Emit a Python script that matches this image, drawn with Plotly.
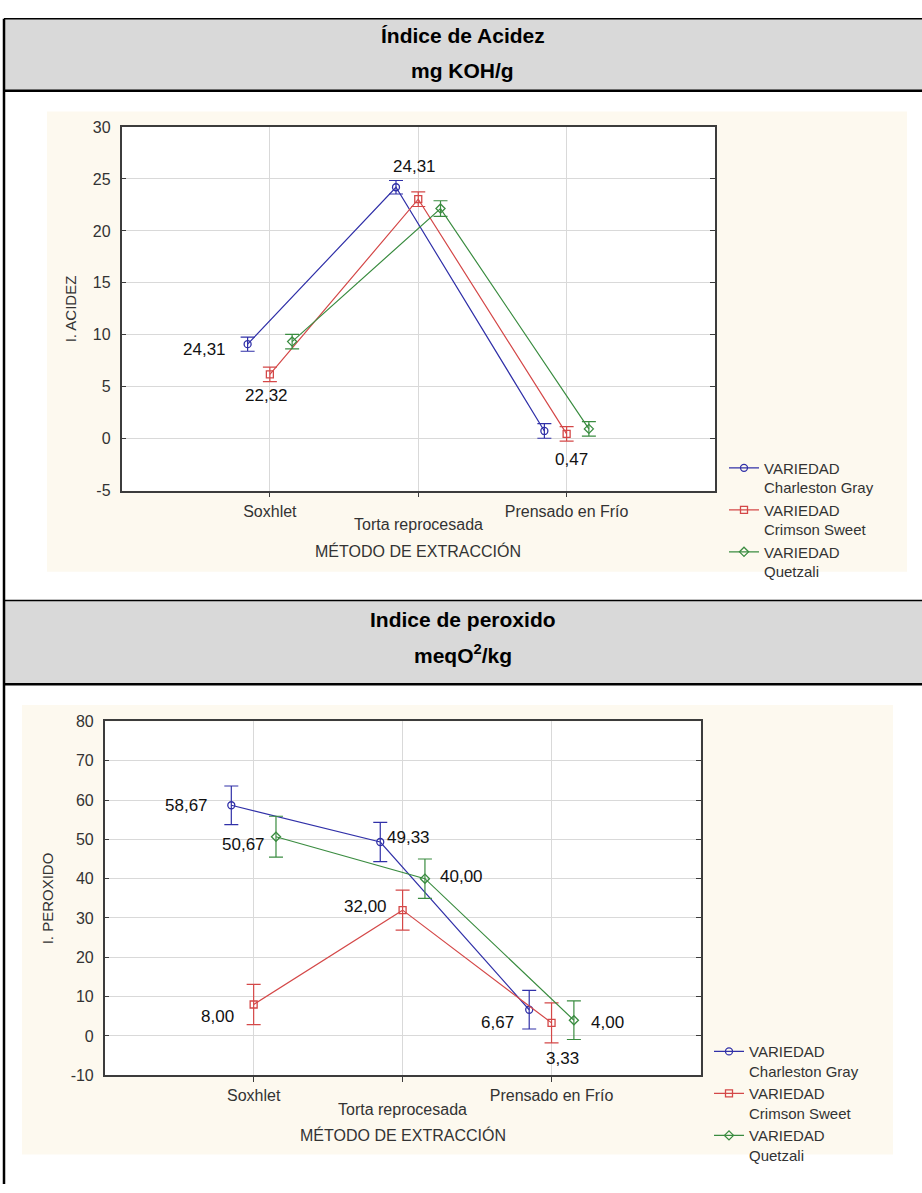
import plotly.graph_objects as go

# ---------------- data ----------------
methods = ["Soxhlet", "Torta reprocesada", "Prensado en Frío"]
varieties = ["Charleston Gray", "Crimson Sweet", "Quetzali"]

acidez_charleston = [9.1, 24.2, 0.75]
acidez_crimson = [6.2, 23.05, 0.47]
acidez_quetzali = [9.35, 22.15, 0.95]
acidez_err_charleston = [0.68, 0.65, 0.7]
acidez_err_crimson = [0.7, 0.7, 0.7]
acidez_err_quetzali = [0.7, 0.75, 0.7]

peroxido_charleston = [58.67, 49.33, 6.67]
peroxido_crimson = [8.00, 32.00, 3.33]
peroxido_quetzali = [50.67, 40.00, 4.00]
peroxido_err_charleston = [4.9, 5.0, 4.9]
peroxido_err_crimson = [5.1, 5.1, 5.1]
peroxido_err_quetzali = [5.2, 5.0, 4.9]

acidez_ticks = [-5, 0, 5, 10, 15, 20, 25, 30]
peroxido_ticks = [-10, 0, 10, 20, 30, 40, 50, 60, 70, 80]

# value labels: text, variety index, method index
acidez_labels = [("24,31", 0, 0), ("24,31", 0, 1), ("22,32", 1, 0), ("0,47", 1, 2)]
peroxido_labels = [("58,67", 0, 0), ("50,67", 2, 0), ("49,33", 0, 1), ("40,00", 2, 1),
                   ("32,00", 1, 1), ("8,00", 1, 0), ("6,67", 0, 2), ("4,00", 2, 2),
                   ("3,33", 1, 2)]

# ---------------- style ----------------
W, H = 922, 1193
FONT = "Liberation Sans, Arial, sans-serif"
HEADFONT = "Liberation Sans Narrow, Arial Narrow, Liberation Sans, sans-serif"
colors = ["#3030A8", "#D44848", "#3A8C40"]
symbols = ["circle-open", "square-open", "diamond-open"]
offsets = [-0.15, 0.0, 0.15]
acidez_label_shift = [(-43, -5), (19, 21), (-3, -21), (5, -26)]
peroxido_label_shift = [(-45, 0), (-32, -8), (28, 4), (37, 2), (-37, 4),
                        (-36, -12), (-32, -13), (34, -2), (11, -36)]


def px(p):
    return p / W


def py(p):
    return 1 - p / H


fig = go.Figure()

acid_vals = [acidez_charleston, acidez_crimson, acidez_quetzali]
acid_errs = [acidez_err_charleston, acidez_err_crimson, acidez_err_quetzali]
per_vals = [peroxido_charleston, peroxido_crimson, peroxido_quetzali]
per_errs = [peroxido_err_charleston, peroxido_err_crimson, peroxido_err_quetzali]

method_pos = [i + 1 for i in range(len(methods))]


def add_series(vals, errs, xa, ya, legend):
    for i, name in enumerate(varieties):
        fig.add_trace(go.Scatter(
            x=[m + offsets[i] for m in method_pos], y=vals[i],
            mode="lines+markers",
            name="VARIEDAD<br>" + name,
            line=dict(color=colors[i], width=1.2),
            marker=dict(symbol=symbols[i], size=7, color=colors[i], line=dict(width=1.3)),
            error_y=dict(type="data", array=errs[i], visible=True, color=colors[i],
                         thickness=1.2, width=7),
            xaxis=xa, yaxis=ya, legend=legend,
        ))


add_series(acid_vals, acid_errs, "x", "y", "legend")
add_series(per_vals, per_errs, "x2", "y2", "legend2")

# outer categories are regular tick labels; the middle one is staggered below
major_pos = [method_pos[0], method_pos[2]]
major_txt = [methods[0], methods[2]]

axis_common = dict(showline=True, linecolor="#3C3C3C", linewidth=1.5, zeroline=False,
                   gridcolor="#D9D9D9", gridwidth=1, tickcolor="#3C3C3C",
                   tickfont=dict(family=FONT, size=16, color="#333333"))

xcommon = dict(axis_common, range=[0, 4], tickvals=major_pos, ticktext=major_txt,
               ticks="outside", ticklen=5, mirror=True, showgrid=True,
               minor=dict(tickmode="array", tickvals=[method_pos[1]], ticks="outside",
                          ticklen=5, tickcolor="#3C3C3C", showgrid=True,
                          gridcolor="#D9D9D9", gridwidth=1))
ycommon = dict(axis_common, ticks="inside", ticklen=5, mirror="allticks", showgrid=True,
               ticklabelstandoff=6)

fig.update_layout(
    width=W, height=H, autosize=False,
    margin=dict(l=0, r=0, t=0, b=0),
    paper_bgcolor="white", plot_bgcolor="white",
    font=dict(family=FONT, color="#333333"),
    xaxis=dict(xcommon, domain=[px(121.5), px(715)], anchor="y"),
    yaxis=dict(ycommon, domain=[py(489.7), py(120.7)], range=[-5, 30],
               tickvals=acidez_ticks, ticktext=[str(t) for t in acidez_ticks], anchor="x"),
    xaxis2=dict(xcommon, domain=[px(104.7), px(700.5)], anchor="y2"),
    yaxis2=dict(ycommon, domain=[py(1082.7), py(723.7)], range=[-10, 80],
                tickvals=peroxido_ticks, ticktext=[str(t) for t in peroxido_ticks], anchor="x2"),
    legend=dict(x=px(724), y=py(450), xanchor="left", yanchor="top",
                bgcolor="rgba(0,0,0,0)", font=dict(family=FONT, size=15, color="#333333"),
                valign="top", tracegroupgap=0),
    legend2=dict(x=px(709), y=py(1042), xanchor="left", yanchor="top",
                 bgcolor="rgba(0,0,0,0)", font=dict(family=FONT, size=15, color="#333333"),
                 valign="top", tracegroupgap=0),
    showlegend=True,
)

# ---------------- table frame & backgrounds ----------------
shapes = []
CREAM = "#FDF9EF"
GRAY = "#D9D9D9"
shapes.append(dict(type="rect", xref="paper", yref="paper", x0=px(47), x1=px(907),
                   y0=py(572), y1=py(105), fillcolor=CREAM, line=dict(width=0), layer="below"))
shapes.append(dict(type="rect", xref="paper", yref="paper", x0=px(22), x1=px(893),
                   y0=py(1163), y1=py(707), fillcolor=CREAM, line=dict(width=0), layer="below"))
for xr, yr in (("x domain", "y domain"), ("x2 domain", "y2 domain")):
    shapes.append(dict(type="rect", xref=xr, yref=yr, x0=0, x1=1, y0=0, y1=1,
                       fillcolor="white", line=dict(width=0), layer="below"))
for top, bot in ((11, 84), (601, 686)):
    shapes.append(dict(type="rect", xref="paper", yref="paper", x0=px(4), x1=1,
                       y0=py(bot), y1=py(top), fillcolor=GRAY, line=dict(width=0), layer="below"))
    shapes.append(dict(type="line", xref="paper", yref="paper", x0=px(4), x1=1,
                       y0=py(top), y1=py(top), line=dict(color="black", width=1.5)))
    shapes.append(dict(type="line", xref="paper", yref="paper", x0=px(4), x1=1,
                       y0=py(bot), y1=py(bot), line=dict(color="black", width=2.5)))
shapes.append(dict(type="line", xref="paper", yref="paper", x0=px(4), x1=px(4),
                   y0=0, y1=py(11), line=dict(color="black", width=2.5)))
fig.update_layout(shapes=shapes)

# ---------------- texts ----------------
ann = []
HFONT = dict(family=HEADFONT, size=21, color="black")
for txt, yy in (("<b>Índice de Acidez</b>", 28), ("<b>mg KOH/g</b>", 63),
                ("<b>Indice de peroxido</b>", 620), ("<b>meqO<sup>2</sup>/kg</b>", 655)):
    ann.append(dict(text=txt, xref="paper", yref="paper", x=px(463), y=py(yy),
                    showarrow=False, xanchor="center", yanchor="middle", font=HFONT))

TFONT = dict(family=FONT, size=16, color="#333333")
for xr, ytorta, ytitle in (("x", 524, 551), ("x2", 1117, 1143)):
    ann.append(dict(text=methods[1], xref=xr, yref="paper", x=method_pos[1], y=py(ytorta),
                    showarrow=False, font=TFONT, yanchor="middle"))
    ann.append(dict(text="MÉTODO DE EXTRACCIÓN", xref=xr + " domain", yref="paper", x=0.5,
                    y=py(ytitle), showarrow=False, font=TFONT, yanchor="middle"))
ann.append(dict(text="I. ACIDEZ", xref="paper", yref="y domain", x=px(70.5), y=0.5,
                textangle=-90, showarrow=False, font=dict(family=FONT, size=15, color="#333333"),
                xanchor="center", yanchor="middle"))
ann.append(dict(text="I. PEROXIDO", xref="paper", yref="y2 domain", x=px(47), y=0.5,
                textangle=-90, showarrow=False, font=dict(family=FONT, size=15, color="#333333"),
                xanchor="center", yanchor="middle"))

VFONT = dict(family=FONT, size=17, color="#111111")
for (txt, vi, mi), (dx, dy) in zip(acidez_labels, acidez_label_shift):
    ann.append(dict(text=txt, xref="x", yref="y", x=method_pos[mi] + offsets[vi],
                    y=acid_vals[vi][mi], xshift=dx, yshift=dy, showarrow=False, font=VFONT))
for (txt, vi, mi), (dx, dy) in zip(peroxido_labels, peroxido_label_shift):
    ann.append(dict(text=txt, xref="x2", yref="y2", x=method_pos[mi] + offsets[vi],
                    y=per_vals[vi][mi], xshift=dx, yshift=dy, showarrow=False, font=VFONT))

fig.update_layout(annotations=ann)

fig.write_html("out.html")
